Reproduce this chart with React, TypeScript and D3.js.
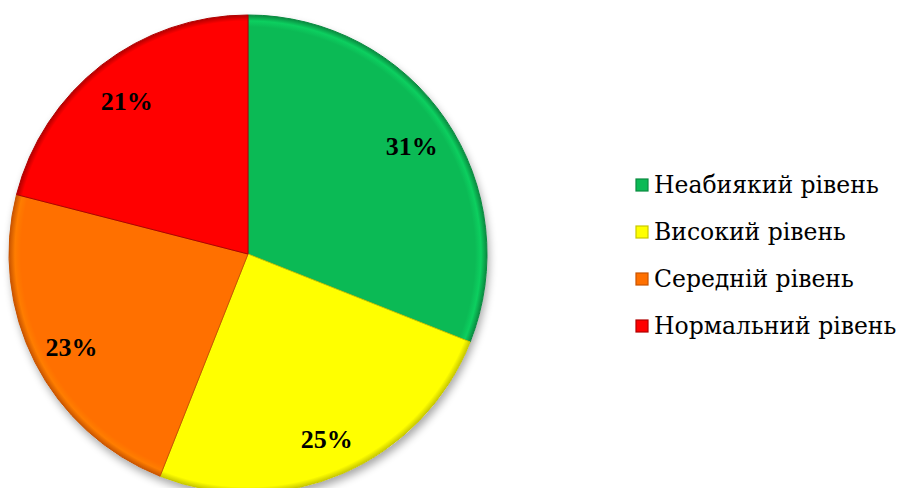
import * as d3 from "d3";
import React, { useEffect, useRef } from "react";

const categories = ["Неабиякий рівень", "Високий рівень", "Середній рівень", "Нормальний рівень"];
const values = [31, 25, 23, 21];
const colors = ["#0bba55", "#ffff00", "#ff7000", "#ff0000"];
const edgeColors = ["#0a8a40", "#c8c800", "#c85400", "#b00000"];

const FONT = "'Liberation Serif', 'DejaVu Serif', 'Times New Roman', serif";
// Liberation Serif has no Cyrillic here, so the legend uses DejaVu Serif
const LEGEND_FONT = "'DejaVu Serif', serif";

const App = () => {
  const svgRef = useRef<SVGSVGElement>(null);

  useEffect(() => {
    const width = 900,
      height = 488;
    const cx = 248,
      cy = 254,
      radius = 239;

    const svg = d3
      .select(svgRef.current)
      .html("")
      .attr("viewBox", `0 0 ${width} ${height}`)
      .attr("width", width)
      .attr("height", height);

    svg.append("rect").attr("width", width).attr("height", height).attr("fill", "#fff");

    const defs = svg.append("defs");
    const shadow = defs.append("filter").attr("id", "shadow").attr("x", "-10%").attr("y", "-10%").attr("width", "120%").attr("height", "120%");
    shadow.append("feGaussianBlur").attr("in", "SourceAlpha").attr("stdDeviation", 4);
    shadow.append("feOffset").attr("dx", 2).attr("dy", 5).attr("result", "off");
    shadow.append("feComponentTransfer").append("feFuncA").attr("type", "linear").attr("slope", 0.35);
    const merge = shadow.append("feMerge");
    merge.append("feMergeNode");
    merge.append("feMergeNode").attr("in", "SourceGraphic");

    // bevel glow near the rim
    colors.forEach((c, i) => {
      const grad = defs
        .append("radialGradient")
        .attr("id", `rim-${i}`)
        .attr("gradientUnits", "userSpaceOnUse")
        .attr("cx", 0)
        .attr("cy", 0)
        .attr("r", radius);
      grad.append("stop").attr("offset", "0.95").attr("stop-color", c);
      grad.append("stop").attr("offset", "0.975").attr("stop-color", d3.color(c)!.brighter(0.3).formatHex());
      grad.append("stop").attr("offset", "1").attr("stop-color", edgeColors[i]);
    });

    const pie = d3
      .pie<number>()
      .sort(null)
      .value((d) => d);
    const arc = d3.arc<d3.PieArcDatum<number>>().outerRadius(radius).innerRadius(0);
    const arcs = pie(values);

    const g = svg.append("g").attr("transform", `translate(${cx},${cy})`);

    g.append("circle").attr("r", radius).attr("fill", "#fff").attr("filter", "url(#shadow)");

    g.selectAll(".slice")
      .data(arcs)
      .enter()
      .append("path")
      .attr("class", "slice")
      .attr("d", arc)
      .attr("fill", (d, i) => `url(#rim-${i})`)
      .attr("stroke", (d, i) => edgeColors[i])
      .attr("stroke-width", 1)
      .attr("stroke-linejoin", "round");

    // percent labels
    const labelArc = d3.arc<d3.PieArcDatum<number>>().outerRadius(198).innerRadius(198);
    const total = d3.sum(values);
    g.selectAll(".lbl")
      .data(arcs)
      .enter()
      .append("text")
      .attr("class", "lbl")
      .attr("transform", (d) => `translate(${labelArc.centroid(d)})`)
      .attr("text-anchor", "middle")
      .attr("y", 3)
      .attr("dy", "0.35em")
      .attr("font-family", FONT)
      .attr("font-size", 26)
      .attr("font-weight", "bold")
      .attr("fill", "#000")
      .text((d) => `${Math.round((d.value / total) * 100)}%`);

    // legend
    const legend = svg
      .selectAll(".legend")
      .data(categories)
      .enter()
      .append("g")
      .attr("class", "legend")
      .attr("transform", (d, i) => `translate(636, ${185 + i * 47})`);

    legend
      .append("rect")
      .attr("x", 0)
      .attr("y", -6)
      .attr("width", 12)
      .attr("height", 12)
      .attr("fill", (d, i) => colors[i])
      .attr("stroke", (d, i) => edgeColors[i])
      .attr("stroke-width", 1.2);

    legend
      .append("text")
      .attr("x", 18)
      .attr("y", 0)
      .attr("dy", "0.35em")
      .attr("font-family", LEGEND_FONT)
      .attr("font-size", 23.5)
      .attr("fill", "#000")
      .text((d) => d);
  }, []);

  return <svg ref={svgRef} style={{ position: "absolute", left: 0, top: 0, display: "block" }}></svg>;
};

export default App;
